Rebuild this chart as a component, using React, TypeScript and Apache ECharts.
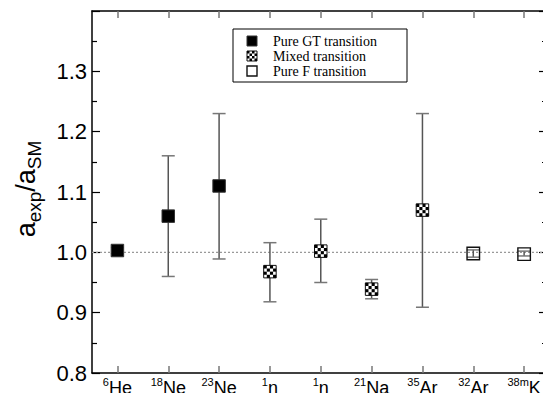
import React, { useEffect, useRef } from "react";
import * as echarts from "echarts";

const isotopeMass = ["6", "18", "23", "1", "1", "21", "35", "32", "38m"];
const isotopeSymbol = ["He", "Ne", "Ne", "n", "n", "Na", "Ar", "Ar", "K"];
const ratio = [1.003, 1.06, 1.11, 0.968, 1.002, 0.939, 1.07, 0.998, 0.997];
const errLow = [0.998, 0.96, 0.989, 0.918, 0.95, 0.923, 0.909, 0.992, 0.994];
const errHigh = [1.008, 1.16, 1.23, 1.016, 1.055, 0.955, 1.23, 1.004, 1.002];
const transitionType = ["GT", "GT", "GT", "Mixed", "Mixed", "Mixed", "Mixed", "F", "F"];
const legendLabels = ["Pure GT transition", "Mixed transition", "Pure F transition"];
const typeOrder = ["GT", "Mixed", "F"];

const X_MIN = 0.5;
const X_MAX = 9.45;
const Y_MIN = 0.8;
const Y_MAX = 1.4;
const positions = isotopeMass.map((_, i) => i + 1);

function markerShapes(t: number, cx: number, cy: number, size: number, z?: number): any[] {
  const h = size / 2;
  const zz = z === undefined ? {} : { z };
  if (t === 0) {
    return [
      {
        type: "rect",
        ...zz,
        shape: { x: cx - h, y: cy - h, width: size, height: size },
        style: { fill: "#000", stroke: "#333", lineWidth: 1 },
      },
    ];
  }
  if (t === 2) {
    return [
      {
        type: "rect",
        ...zz,
        shape: { x: cx - h, y: cy - h, width: size, height: size },
        style: { fill: "none", stroke: "#111", lineWidth: 1.4 },
      },
    ];
  }
  const out: any[] = [
    {
      type: "rect",
      ...zz,
      shape: { x: cx - h, y: cy - h, width: size, height: size },
      style: { fill: "#fff", stroke: "#111", lineWidth: 1 },
    },
  ];
  const n = 4;
  const c = size / n;
  for (let r = 0; r < n; r++) {
    for (let k = 0; k < n; k++) {
      if ((r + k) % 2 === 0) {
        out.push({
          type: "rect",
          ...zz,
          shape: { x: cx - h + k * c, y: cy - h + r * c, width: c, height: c },
          style: { fill: "#000" },
        });
      }
    }
  }
  return out;
}

export default function App() {
  const ref = useRef<HTMLDivElement>(null);
  useEffect(() => {
    if (!ref.current) return;
    const chart = echarts.init(ref.current, null, { renderer: "svg" });
    const data = positions.map((x, i) => [
      x,
      ratio[i],
      errLow[i],
      errHigh[i],
      typeOrder.indexOf(transitionType[i]),
    ]);

    const legendGraphics: any[] = [
      {
        type: "rect",
        shape: { x: 233, y: 29, width: 174, height: 53 },
        style: { fill: "#fff", stroke: "#000", lineWidth: 1 },
        z: 100,
      },
    ];
    legendLabels.forEach((lab, i) => {
      const cy = 41 + i * 15;
      markerShapes(i, 252, cy, 10, 101).forEach((s) => legendGraphics.push(s));
      legendGraphics.push({
        type: "text",
        x: 273,
        y: cy,
        z: 101,
        style: {
          text: lab,
          fill: "#000",
          font: "14px 'Liberation Serif'",
          verticalAlign: "middle",
          align: "left",
        },
      });
    });

    const xAxisBase = {
      type: "value",
      min: X_MIN,
      max: X_MAX,
      splitLine: { show: false },
      axisLine: { show: true, onZero: false, lineStyle: { color: "#000", width: 1.5 } },
    };
    const yAxisBase = {
      type: "value",
      min: Y_MIN,
      max: Y_MAX,
      interval: 0.1,
      splitLine: { show: false },
      axisLine: { show: true, onZero: false, lineStyle: { color: "#000", width: 1.5 } },
      axisTick: { show: true, inside: true, length: 8, lineStyle: { color: "#000", width: 1.2 } },
      minorTick: { show: true, splitNumber: 2, length: 5, lineStyle: { color: "#000", width: 1.2 } },
    };

    chart.setOption({
      animation: false,
      grid: { left: 92, right: 4, top: 11, bottom: 28 },
      xAxis: [
        {
          ...xAxisBase,
          position: "bottom",
          axisTick: {
            show: true,
            inside: true,
            length: 7,
            customValues: positions,
            lineStyle: { color: "#777", width: 1.5 },
          },
          axisLabel: {
            show: true,
            customValues: positions,
            margin: 3,
            formatter: (v: number) => {
              const i = Math.round(v) - 1;
              return `{s|${isotopeMass[i]}}{b|${isotopeSymbol[i]}}`;
            },
            rich: {
              b: {
                fontSize: 18,
                lineHeight: 24,
                fontFamily: "Liberation Sans",
                color: "#000",
              },
              s: {
                fontSize: 11,
                lineHeight: 10,
                verticalAlign: "top",
                fontFamily: "Liberation Sans",
                color: "#000",
              },
            },
          },
        },
        {
          ...xAxisBase,
          position: "top",
          axisTick: {
            show: true,
            inside: true,
            length: 7,
            customValues: positions,
            lineStyle: { color: "#777", width: 1.5 },
          },
          axisLabel: { show: false },
        },
      ],
      yAxis: [
        {
          ...yAxisBase,
          position: "left",
          axisLabel: {
            show: true,
            margin: 5,
            fontSize: 22,
            fontFamily: "Liberation Sans",
            color: "#000",
            formatter: (v: number) => (v > 1.35 ? "" : v.toFixed(1)),
          },
        },
        {
          ...yAxisBase,
          position: "right",
          axisLabel: { show: false },
        },
      ],
      graphic: [
        {
          type: "text",
          x: 26,
          y: 189,
          rotation: Math.PI / 2,
          style: {
            text: "{m|a}{s|exp}{m|/a}{s|SM}",
            align: "center",
            verticalAlign: "middle",
            rich: {
              m: { fontSize: 27, lineHeight: 36, fontFamily: "Liberation Sans", color: "#000" },
              s: {
                fontSize: 19,
                lineHeight: 19,
                verticalAlign: "bottom",
                fontFamily: "Liberation Sans",
                color: "#000",
              },
            },
          },
        },
        ...legendGraphics,
      ],
      series: [
        {
          type: "line",
          data: [
            [X_MIN, 1.0],
            [X_MAX, 1.0],
          ],
          showSymbol: false,
          symbol: "none",
          silent: true,
          lineStyle: { color: "#999", width: 1.2, type: [2, 2] },
          z: 1,
        },
        {
          type: "custom",
          silent: true,
          z: 5,
          data,
          encode: { x: 0, y: 1 },
          renderItem: (params: any, api: any) => {
            const x = api.value(0);
            const y = api.value(1);
            const lo = api.value(2);
            const hi = api.value(3);
            const t = api.value(4);
            const c = api.coord([x, y]);
            const pLo = api.coord([x, lo]);
            const pHi = api.coord([x, hi]);
            const cap = 6.5;
            const children: any[] = [
              {
                type: "line",
                shape: { x1: c[0], y1: pLo[1], x2: c[0], y2: pHi[1] },
                style: { stroke: "#555", lineWidth: 1.5 },
              },
              {
                type: "line",
                shape: { x1: c[0] - cap, y1: pLo[1], x2: c[0] + cap, y2: pLo[1] },
                style: { stroke: "#777", lineWidth: 1.5 },
              },
              {
                type: "line",
                shape: { x1: c[0] - cap, y1: pHi[1], x2: c[0] + cap, y2: pHi[1] },
                style: { stroke: "#777", lineWidth: 1.5 },
              },
              ...markerShapes(t, c[0], c[1], 12.5),
            ];
            return { type: "group", children };
          },
        },
      ],
    });
    return () => chart.dispose();
  }, []);
  return <div ref={ref} style={{ width: 551, height: 401, margin: -8 }} />;
}
